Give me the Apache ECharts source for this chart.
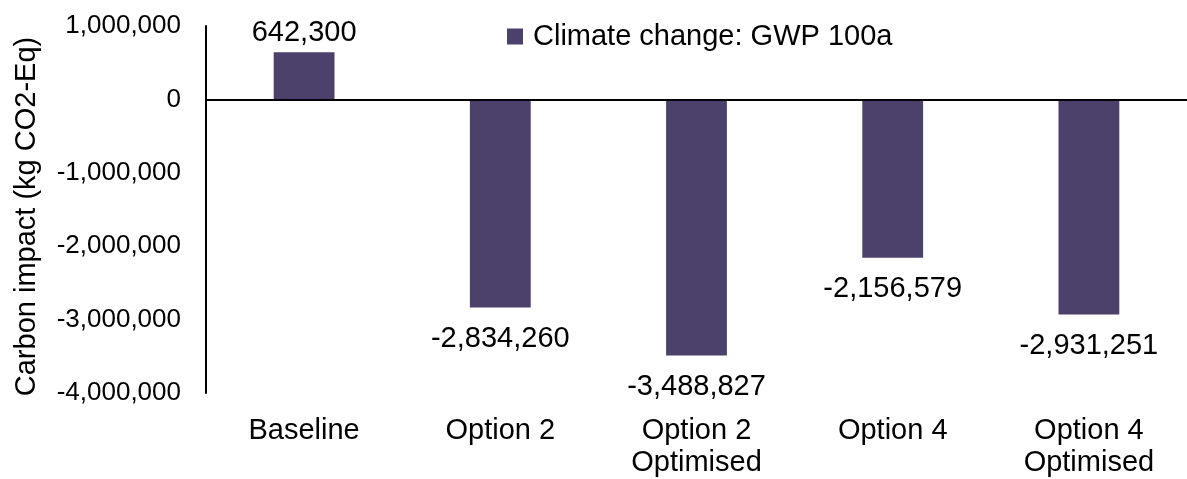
<!DOCTYPE html>
<html>
<head>
<meta charset="utf-8">
<script src="https://cdn.jsdelivr.net/npm/echarts@6/dist/echarts.min.js"></script>
<style>
  html, body { margin: 0; padding: 0; background: #fff; }
  #chart { width: 1187px; height: 479px; }
</style>
</head>
<body>
<div id="chart"></div>
<script>
// Scenario names (two-line labels for the optimised variants)
const categories = ['Baseline', 'Option 2', 'Option 2\nOptimised', 'Option 4', 'Option 4\nOptimised'];
// Climate change impact, GWP 100a, in kg CO2-Eq
const gwpValues = [642300, -2834260, -3488827, -2156579, -2931251];
const seriesName = 'Climate change: GWP 100a';
const yTicks = { min: -4000000, max: 1000000, step: 1000000 };

const FONT = '"Liberation Sans", Arial, sans-serif';
const fmt = v => v.toLocaleString('en-US');

const chart = echarts.init(document.getElementById('chart'), null, { renderer: 'canvas' });

chart.setOption({
  animation: false,
  backgroundColor: '#ffffff',
  textStyle: { fontFamily: FONT, color: '#000' },
  grid: { left: 206, right: -5, top: 26, bottom: 83, containLabel: false },
  legend: {
    data: [seriesName],
    left: 507,
    top: 22,
    padding: 0,
    icon: 'rect',
    itemWidth: 16,
    itemHeight: 16,
    textStyle: { fontFamily: FONT, fontSize: 29, color: '#000', padding: [0, 0, 0, 5] }
  },
  xAxis: {
    type: 'category',
    data: categories,
    axisLine: { show: false, onZero: false },
    axisTick: { show: false },
    axisLabel: {
      margin: 22,
      fontFamily: FONT,
      fontSize: 29,
      lineHeight: 32,
      color: '#000',
      interval: 0
    }
  },
  yAxis: {
    type: 'value',
    min: yTicks.min,
    max: yTicks.max,
    interval: yTicks.step,
    name: 'Carbon impact (kg CO2-Eq)',
    nameLocation: 'middle',
    nameGap: 165,
    nameTextStyle: { fontFamily: FONT, fontSize: 29, color: '#000', padding: [0, 14, 0, 0] },
    splitLine: { show: false },
    axisTick: { show: false },
    axisLine: { show: true, onZero: false, lineStyle: { color: '#000', width: 2 } },
    axisLabel: {
      margin: 25,
      fontFamily: FONT,
      fontSize: 26,
      color: '#000',
      formatter: fmt
    }
  },
  series: [{
    name: seriesName,
    type: 'bar',
    barWidth: '31%',
    itemStyle: { color: '#4b416b' },
    data: gwpValues.map(v => ({
      value: v,
      label: { position: v >= 0 ? 'top' : 'bottom', distance: v >= 0 ? 5 : 17 }
    })),
    label: {
      show: true,
      fontFamily: FONT,
      fontSize: 29,
      color: '#000',
      formatter: p => fmt(p.value)
    },
    markLine: {
      silent: true,
      symbol: 'none',
      label: { show: false },
      lineStyle: { color: '#000', width: 2, type: 'solid' },
      data: [{ yAxis: 0 }]
    }
  }]
});
</script>
</body>
</html>
